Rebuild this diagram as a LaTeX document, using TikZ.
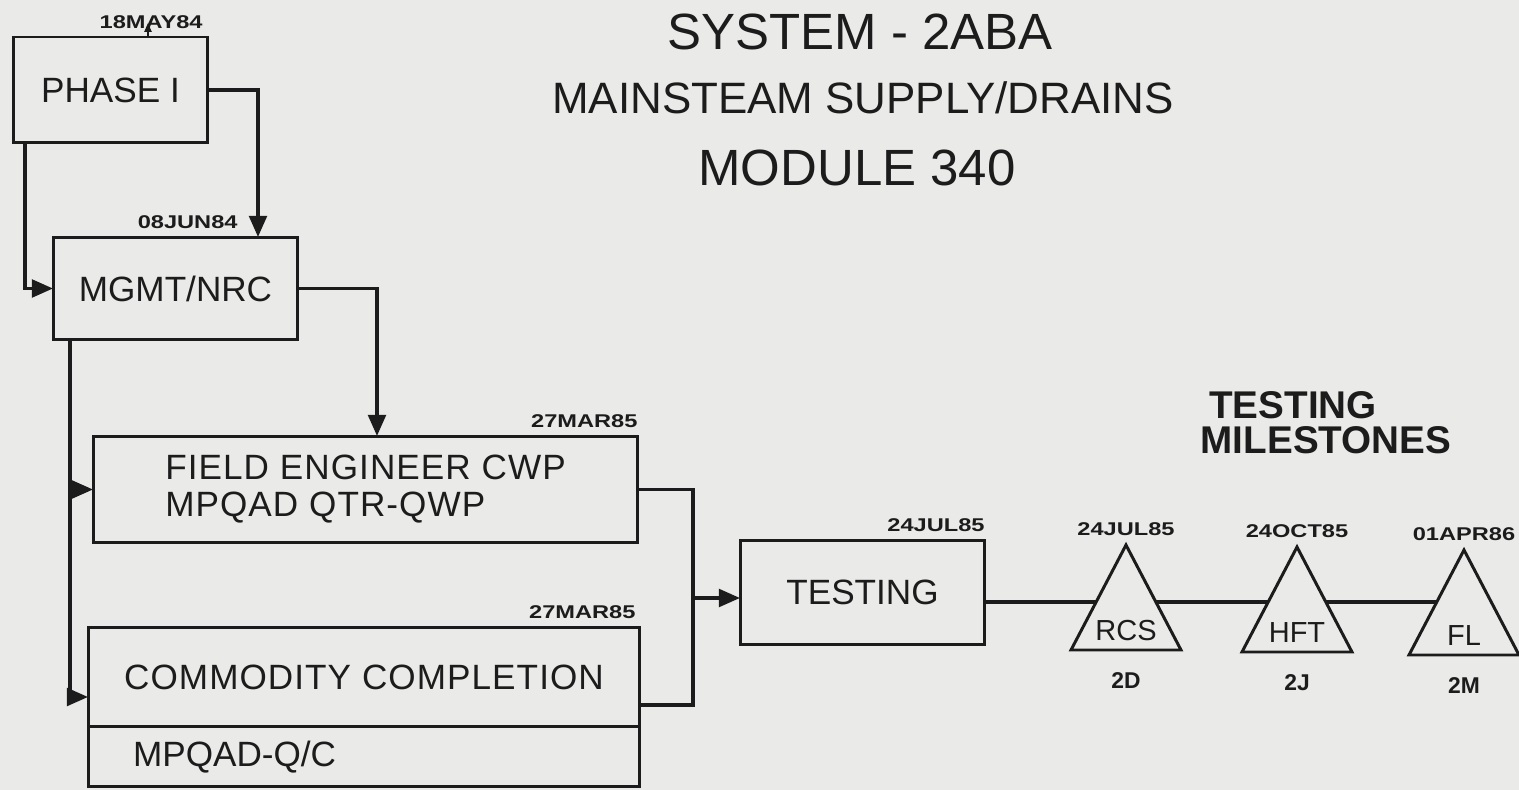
\documentclass[tikz,border=0pt]{standalone}
\usepackage{fontspec}
\setmainfont{Liberation Sans}
\usetikzlibrary{arrows.meta,calc}
\definecolor{bg}{RGB}{234,234,232}
\definecolor{ink}{RGB}{28,28,28}
\begin{document}
\begin{tikzpicture}[x=0.02cm,y=-0.02cm,
  box/.style={draw=ink, line width=1.7pt, inner sep=0pt, outer sep=0pt, text=ink, font=\fontsize{20}{21}\selectfont},
  widebox/.style={box, font=\fontsize{20}{21}\selectfont\addfontfeature{LetterSpace=3}},
  conn/.style={draw=ink, line width=2pt},
  arr/.style={conn, -{Triangle[length=12pt,width=10pt]}},
  date/.style={text=ink, font=\bfseries\fontsize{10.5}{12}\selectfont, xscale=1.28, inner sep=0pt},
  titlefont/.style={text=ink, inner sep=0pt},
  tri/.style={draw=ink, line width=1.7pt, fill=bg, line join=miter},
  trilabel/.style={text=ink, inner sep=0pt, font=\fontsize{16.5}{18}\selectfont},
  code/.style={text=ink, inner sep=0pt, font=\bfseries\fontsize{13}{14}\selectfont}]
\useasboundingbox (0,0) rectangle (1519,790);
\fill[bg] (0,0) rectangle (1519,790);

% titles
\node[titlefont, font=\fontsize{29}{32}\selectfont] (t1) at (860,32) {SYSTEM - 2ABA};
\node[titlefont, font=\fontsize{25}{28}\selectfont] (t2) at (863,98) {MAINSTEAM SUPPLY/DRAINS};
\node[titlefont, font=\fontsize{29}{32}\selectfont] (t3) at (857,168) {MODULE 340};
\node[titlefont, font=\bfseries\fontsize{22}{24}\selectfont] (m1) at (1293,405) {TESTING};
\node[titlefont, font=\bfseries\fontsize{22}{24}\selectfont] (m2) at (1326,440) {MILESTONES};

% helper coordinates
\coordinate (x25) at (25,0);
\coordinate (x148) at (148,0);
\coordinate (x258) at (258,0);
\coordinate (x377) at (377,0);
\coordinate (bus) at (70,0);
\coordinate (j) at (693,598);
\coordinate (lineend) at (1440,602);

% boxes
\node[box, minimum width=3.9cm, minimum height=2.12cm] (p1) at (110.5,90) {PHASE I};
\node[box, minimum width=4.9cm, minimum height=2.06cm] (mgmt) at (175.5,288.5) {MGMT/NRC};
\node[widebox, minimum width=10.9cm, minimum height=2.14cm, align=left] (fe) at (365.5,489.5) {FIELD ENGINEER CWP\\MPQAD QTR-QWP};
\node[widebox, minimum width=11.04cm, minimum height=2cm] (cc) at (364,677) {COMMODITY COMPLETION};
\node[box, minimum width=11.04cm, minimum height=1.2cm, text width=9.24cm, inner xsep=0.9cm, align=left, anchor=north] (qc) at (cc.south) {MPQAD-Q/C};
\node[box, minimum width=4.9cm, minimum height=2.1cm] (test) at (862.5,592.5) {\raisebox{-0.1cm}{TESTING}};

% dates
\node[date, anchor=south east] (d1) at ([xshift=-0.1cm,yshift=0.16cm]p1.north east) {18MAY84};
\node[date, anchor=south east] (d2) at ([xshift=-1.2cm,yshift=0.16cm]mgmt.north east) {08JUN84};
\node[date, anchor=south east] (d3) at ([yshift=0.16cm]fe.north east) {27MAR85};
\node[date, anchor=south east] (d4) at ([xshift=-0.08cm,yshift=0.16cm]cc.north east) {27MAR85};
\node[date, anchor=south east] (d5) at ([yshift=0.16cm]test.north east) {24JUL85};

% connectors
\draw[ink, line width=1pt, -{Triangle[length=5pt,width=4pt]}] (p1.north -| x148) -- ++(0,-14);
\draw[arr] (p1.east) -| (mgmt.north -| x258);
\draw[arr] (p1.south -| x25) |- (mgmt.west);
\draw[arr] (mgmt.east) -| (fe.north -| x377);
\draw[arr] (mgmt.south -| bus) |- ([yshift=-0.4cm]cc.west);
\draw[arr] (bus |- fe.west) -- (fe.west);
\draw[conn] (fe.east) -| (j);
\draw[conn] ([yshift=-0.56cm]cc.east) -| (j);
\draw[arr] (j) -- (test.west |- j);

% milestone line
\draw[conn] (test.east |- lineend) -- (lineend);

% milestones
\foreach \nm/\ax/\ay/\lab/\dt/\cd in {rcs/1126/545/RCS/24JUL85/2D, hft/1297/547/HFT/24OCT85/2J, fl/1464/550/FL/01APR86/2M}{
  \coordinate (\nm) at (\ax,\ay);
  \draw[tri] (\nm) -- ++(55,105) -- ++(-110,0) -- cycle;
  \node[trilabel] (\nm-l) at ([yshift=-1.72cm]\nm) {\lab};
  \node[date, anchor=south] (\nm-d) at ([yshift=0.18cm]\nm) {\dt};
  \node[code, anchor=north] (\nm-c) at ([yshift=-2.55cm]\nm) {\cd};
}
\end{tikzpicture}
\end{document}
